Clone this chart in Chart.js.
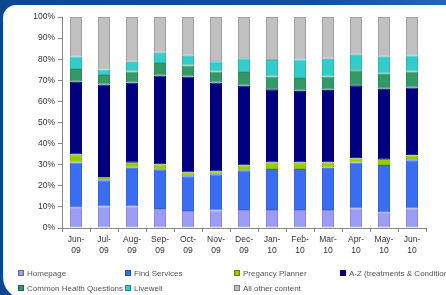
<!DOCTYPE html>
<html>
<head>
<meta charset="utf-8">
<script src="https://cdn.jsdelivr.net/npm/chart.js@4.4.0/dist/chart.umd.min.js"></script>
<style>
  html, body { margin: 0; padding: 0; }
  body {
    width: 446px; height: 295px; overflow: hidden; position: relative;
    background: linear-gradient(90deg, #0c4892 0%, #11509c 70%, #2366b3 100%);
    font-family: "Liberation Sans", Arial, sans-serif;
  }
  #panel {
    position: absolute; left: 3px; top: 5px; width: 470px; height: 294px;
    background: #fff; border-radius: 13px 13px 0 22px;
  }
  #chart { position: absolute; left: 0; top: 0; }
  .leg { position: absolute; font-size: 8px; color: #555; white-space: nowrap; line-height: 9px; }
  .leg i {
    display: inline-block; width: 4px; height: 4px; margin-right: 3px;
    vertical-align: 0px; border: 1px solid rgba(0,0,0,0.35);
  }
</style>
</head>
<body>
<div id="panel"></div>
<canvas id="chart" width="446" height="295"></canvas>
<div id="legend"></div>
<script>
const months = [
  ['Jun-', '09'], ['Jul-', '09'], ['Aug-', '09'], ['Sep-', '09'], ['Oct-', '09'],
  ['Nov-', '09'], ['Dec-', '09'], ['Jan-', '10'], ['Feb-', '10'], ['Mar-', '10'],
  ['Apr-', '10'], ['May-', '10'], ['Jun-', '10']
];

const homepage = [9.8, 10.2, 10.2, 9.0, 8.1, 8.3, 8.5, 8.5, 8.5, 8.5, 9.2, 7.5, 9.2];
const findServices = [21.2, 12.4, 18.3, 18.9, 16.4, 17.2, 18.9, 19.5, 19.5, 20.1, 21.8, 22.3, 22.9];
const pregnancyPlanner = [3.8, 1.6, 2.4, 2.3, 1.8, 1.3, 2.2, 3.0, 3.0, 2.4, 2.1, 2.5, 2.4];
const aToZ = [34.5, 43.8, 38.1, 42.1, 45.5, 42.2, 37.9, 34.8, 34.0, 34.5, 34.6, 33.7, 32.1];
const healthQuestions = [6.0, 4.5, 5.2, 5.9, 5.2, 5.2, 6.4, 6.0, 6.1, 6.3, 7.1, 7.1, 7.6];
const livewell = [6.0, 2.6, 4.6, 4.8, 4.6, 4.8, 6.5, 7.8, 8.7, 8.4, 7.3, 8.1, 7.5];
const otherContent = [18.7, 24.9, 21.2, 17.0, 18.4, 21.0, 19.6, 20.4, 20.2, 19.8, 17.9, 18.8, 18.3];

const seriesNames = [
  'Homepage', 'Find Services', 'Pregancy Planner', 'A-Z (treatments & Conditions)',
  'Common Health Questions', 'Livewell', 'All other content'
];
const seriesData = [homepage, findServices, pregnancyPlanner, aToZ, healthQuestions, livewell, otherContent];
const fillColors = ['#9c9cf6', '#3a6ef0', '#99cc00', '#000080', '#339966', '#33cccc', '#c0c0c0'];
const edgeColors = ['#8a8ad8', '#3562d8', '#88b800', '#00006a', '#2e8a5c', '#2eb8b8', '#a0a0a0'];

const datasets = seriesNames.map((name, i) => ({
  label: name,
  data: seriesData[i],
  backgroundColor: fillColors[i],
  borderColor: edgeColors[i],
  borderWidth: 1,
  borderSkipped: false,
  barPercentage: 0.43,
  categoryPercentage: 1
}));

// html legend, laid out like the original's 4-column grid
const legendSpots = [[18, 269], [125, 269], [234, 269], [340, 269], [18, 284], [125, 284], [234, 284]];
const legendBox = document.querySelector('#legend');
seriesNames.forEach((name, i) => {
  const el = document.createElement('div');
  el.className = 'leg';
  el.style.left = legendSpots[i][0] + 'px';
  el.style.top = legendSpots[i][1] + 'px';
  el.innerHTML = '<i style="background:' + fillColors[i] + '"></i>';
  el.appendChild(document.createTextNode(name));
  legendBox.appendChild(el);
});

new Chart(document.querySelector('#chart'), {
  type: 'bar',
  data: { labels: months, datasets: datasets },
  options: {
    responsive: false,
    animation: false,
    layout: { padding: { left: 0, right: 20, top: 17, bottom: 37 } },
    plugins: { legend: { display: false }, tooltip: { enabled: false } },
    scales: {
      x: {
        stacked: true,
        grid: { drawOnChartArea: false, tickLength: 4, color: '#888' },
        border: { color: '#888' },
        ticks: { color: '#333', font: { size: 8.5, family: 'Liberation Sans' }, padding: 3, maxRotation: 0, autoSkip: false },
        afterFit: (scale) => { scale.height = 30; }
      },
      y: {
        stacked: true,
        min: 0,
        max: 100,
        grid: { drawOnChartArea: false, tickLength: 4, color: '#888' },
        border: { color: '#888' },
        ticks: {
          stepSize: 10,
          color: '#333',
          font: { size: 8.5, family: 'Liberation Sans' },
          padding: 3,
          callback: (v) => v + '%'
        },
        afterFit: (scale) => { scale.width = 62; }
      }
    }
  }
});
</script>
</body>
</html>
